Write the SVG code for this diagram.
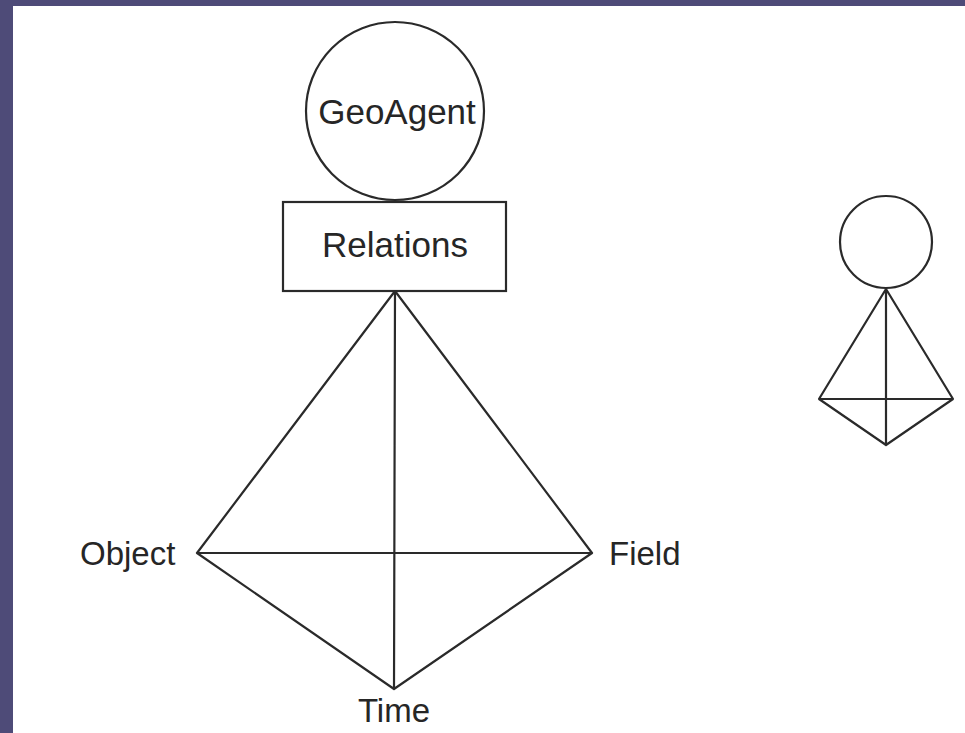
<svg xmlns="http://www.w3.org/2000/svg" width="965" height="733" viewBox="0 0 965 733">
<style>
.ln{stroke:#2a2a2a;stroke-width:2.2;fill:none;stroke-linecap:round;stroke-linejoin:round}
.sh{stroke:#2a2a2a;stroke-width:2.2;fill:#fff}
.tx{font-family:"Liberation Sans",Arial,sans-serif;font-size:33px;fill:#262626}
.big{font-size:35px}
</style>
<rect x="0" y="0" width="965" height="733" fill="#4e4b78"/>
<rect x="13" y="6" width="952" height="727" fill="#fff"/>
<g id="connectors">
<path class="ln" d="M395 291 L197 553 M395 291 L592 553 M395 291 L394 689 M197 553 L592 553 M197 553 L394 689 M592 553 L394 689"/>
<path class="ln" d="M886 289 L819 399 M886 289 L953 399 M886 289 L886 445 M819 399 L953 399 M819 399 L886 445 M953 399 L886 445"/>
</g>
<g id="geoagent">
<circle class="sh" cx="395" cy="111" r="89"/>
<text class="tx big" x="397" y="124" text-anchor="middle">GeoAgent</text>
</g>
<g id="relations">
<rect class="sh" x="283" y="202" width="223" height="89"/>
<text class="tx big" x="395" y="257" text-anchor="middle">Relations</text>
</g>
<g id="object"><text class="tx" x="80" y="565">Object</text></g>
<g id="field"><text class="tx" x="609" y="565">Field</text></g>
<g id="time"><text class="tx" x="394" y="722" text-anchor="middle">Time</text></g>
<g id="small-agent">
<circle class="sh" cx="886" cy="242" r="46"/>
</g>
</svg>
